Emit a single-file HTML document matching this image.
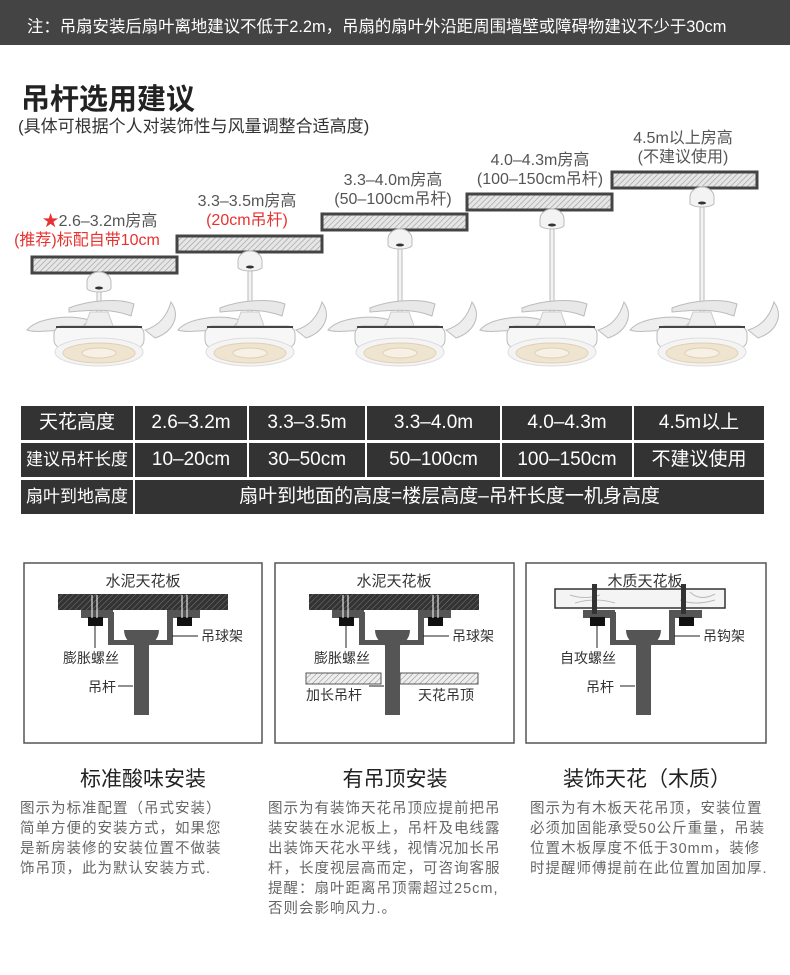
<!DOCTYPE html>
<html><head><meta charset="utf-8"><style>
body{margin:0;width:790px;height:975px;background:#fff;position:relative;overflow:hidden;font-family:"Liberation Sans","Noto Sans CJK SC",sans-serif;}
.a{position:absolute;white-space:nowrap;}
.hdr{left:0;top:0;width:790px;height:45px;background:#444;}
.t{color:#555;font-size:16px;text-align:center;line-height:18px;}
.r{color:#e8322f;}
.c{position:absolute;background:#333;color:#fff;font-size:19px;text-align:center;height:34px;line-height:34px;white-space:nowrap;}
.d{color:#666;font-size:14.5px;letter-spacing:1px;line-height:20px;}
.h{font-size:21px;color:#222;text-align:center;width:240px;}
</style></head><body>
<div class="a hdr"></div>
<div class="a" style="left:27px;top:13px;color:#fff;font-size:16.4px;">注：吊扇安装后扇叶离地建议不低于2.2m，吊扇的扇叶外沿距周围墙壁或障碍物建议不少于30cm</div>
<div class="a" style="left:21px;top:76px;font-size:29px;font-weight:bold;color:#222;">吊杆选用建议</div>
<div class="a" style="left:18px;top:112px;font-size:17px;color:#333;">(具体可根据个人对装饰性与风量调整合适高度)</div>

<div class="a t" style="left:20px;top:213px;width:160px;"><span class="r">★</span>2.6–3.2m房高</div>
<div class="a t r" style="left:6px;top:232px;width:162px;">(推荐)标配自带10cm</div>
<div class="a t" style="left:167px;top:193px;width:160px;">3.3–3.5m房高</div>
<div class="a t r" style="left:167px;top:212px;width:160px;">(20cm吊杆)</div>
<div class="a t" style="left:313px;top:172px;width:160px;">3.3–4.0m房高</div>
<div class="a t" style="left:313px;top:191px;width:160px;">(50–100cm吊杆)</div>
<div class="a t" style="left:460px;top:152px;width:160px;">4.0–4.3m房高</div>
<div class="a t" style="left:460px;top:171px;width:160px;">(100–150cm吊杆)</div>
<div class="a t" style="left:603px;top:130px;width:160px;">4.5m以上房高</div>
<div class="a t" style="left:603px;top:149px;width:160px;">(不建议使用)</div>

<svg class="a" style="left:0;top:0" width="790" height="975">
<defs>
<pattern id="hp" width="4" height="4" patternUnits="userSpaceOnUse" patternTransform="rotate(45)"><rect width="4" height="4" fill="#e6e6e6"/><line x1="0" y1="0" x2="0" y2="4" stroke="#9a9a9a" stroke-width="1.2"/></pattern>
<pattern id="dk" width="4" height="4" patternUnits="userSpaceOnUse" patternTransform="rotate(45)"><rect width="4" height="4" fill="#333"/><line x1="0" y1="0" x2="0" y2="4" stroke="#777" stroke-width="1"/></pattern>
<pattern id="lt" width="4" height="4" patternUnits="userSpaceOnUse" patternTransform="rotate(45)"><rect width="4" height="4" fill="#eee"/><line x1="0" y1="0" x2="0" y2="4" stroke="#888" stroke-width="1"/></pattern>
<g id="fan">
<path d="M-72,330 C-62,318 -30,314 -10,320 L-22,332 C-42,328 -60,334 -72,330Z" fill="#eee" stroke="#bbb"/>
<path d="M72,302 C82,316 74,332 56,338 L46,330 C60,326 68,316 72,302Z" fill="#eee" stroke="#bbb"/>
<path d="M-30,308 C-10,300 20,298 35,304 L32,316 C12,308 -10,310 -30,312Z" fill="#e8e8e8" stroke="#bbb"/>
<path d="M-14,326 L-9,312 L9,312 L14,326Z" fill="#eee" stroke="#ccc"/>
<rect x="-45" y="326" width="90" height="22" rx="8" fill="#f7f7f7" stroke="#bbb"/>
<line x1="-43" y1="327" x2="43" y2="327" stroke="#444" stroke-width="2"/>
<ellipse cx="0" cy="352" rx="44" ry="14" fill="#f4f4f4" stroke="#ddd"/>
<ellipse cx="0" cy="353" rx="36" ry="10" fill="#efe4d0" stroke="#e0d0b4"/>
<ellipse cx="0" cy="353" rx="17" ry="5" fill="#f7f0e4" stroke="#e0d0b4"/>
</g>
<g id="can"><path d="M-12,12 a12,10 0 0 1 24,0 v6 a12,4 0 0 1 -24,0z" fill="#f3f3f3" stroke="#bbb"/><ellipse cx="0" cy="18" rx="4" ry="1.5" fill="#333"/></g>
</defs>
<rect x="32" y="257" width="145" height="16" fill="url(#hp)" stroke="#444" stroke-width="3"/>
<rect x="177" y="236" width="145" height="16" fill="url(#hp)" stroke="#444" stroke-width="3"/>
<rect x="322" y="214" width="145" height="16" fill="url(#hp)" stroke="#444" stroke-width="3"/>
<rect x="467" y="194" width="145" height="16" fill="url(#hp)" stroke="#444" stroke-width="3"/>
<rect x="612" y="172" width="145" height="16" fill="url(#hp)" stroke="#444" stroke-width="3"/>
<g fill="#f3f3f3" stroke="#bbb">
<rect x="97" y="290" width="4" height="30"/>
<rect x="248" y="270" width="4" height="50"/>
<rect x="398" y="248" width="4" height="72"/>
<rect x="550" y="228" width="4" height="92"/>
<rect x="700" y="206" width="4" height="114"/>
</g>
<use href="#can" x="99" y="270"/><use href="#can" x="250" y="249"/><use href="#can" x="400" y="227"/><use href="#can" x="552" y="207"/><use href="#can" x="702" y="185"/>
<use href="#fan" x="99"/><use href="#fan" x="250"/><use href="#fan" x="400"/><use href="#fan" x="552"/><use href="#fan" x="702"/>

<g fill="none" stroke="#555" stroke-width="1.5">
<rect x="24" y="563" width="238" height="180"/>
<rect x="275" y="563" width="239" height="180"/>
<rect x="526" y="563" width="240" height="180"/>
</g>
<g font-size="15" fill="#333" font-family="Liberation Sans,Noto Sans CJK SC,sans-serif">
<text x="143" y="586" text-anchor="middle">水泥天花板</text>
<text x="394" y="586" text-anchor="middle">水泥天花板</text>
<text x="645" y="586" text-anchor="middle">木质天花板</text>
</g>
<g id="mount">
<rect x="81" y="610" width="32" height="8" fill="#555"/>
<rect x="167" y="610" width="33" height="8" fill="#555"/>
<path d="M108,612 h6 v28 h53 v-28 h6 v33 h-65z" fill="#555"/>
<path d="M124,630 h35 a17.5,17 0 0 1 -35,0z" fill="#555"/>
<rect x="134" y="640" width="15" height="75" fill="#555"/>
<rect x="88" y="617" width="15" height="9" fill="#111"/>
<rect x="177" y="617" width="15" height="9" fill="#111"/>
<line x1="95" y1="626" x2="95" y2="648" stroke="#222"/>
<line x1="172" y1="636" x2="198" y2="636" stroke="#222"/>
<line x1="118" y1="686" x2="133" y2="686" stroke="#222"/>
</g>
<rect x="58" y="594" width="170" height="16" fill="url(#dk)"/>
<g stroke="#fff" stroke-width="1"><line x1="92" y1="595" x2="92" y2="618"/><line x1="97" y1="595" x2="97" y2="618"/><line x1="182" y1="595" x2="182" y2="618"/><line x1="187" y1="595" x2="187" y2="618"/></g>
<g transform="translate(251,0)"><use href="#mount"/><rect x="58" y="594" width="170" height="16" fill="url(#dk)"/>
<g stroke="#fff" stroke-width="1"><line x1="92" y1="595" x2="92" y2="618"/><line x1="97" y1="595" x2="97" y2="618"/><line x1="182" y1="595" x2="182" y2="618"/><line x1="187" y1="595" x2="187" y2="618"/></g></g>
<rect x="306" y="673" width="75" height="11" fill="url(#lt)" stroke="#555"/>
<rect x="400" y="673" width="78" height="11" fill="url(#lt)" stroke="#555"/>
<g transform="translate(502,0)"><use href="#mount"/></g>
<rect x="555" y="589" width="170" height="19" fill="#f4f4f4" stroke="#333" stroke-width="1.5"/>
<path d="M570,595 q15,5 30,0 M575,603 q20,-6 40,0 M690,592 q10,10 25,2 M680,600 q15,6 35,0" stroke="#bbb" fill="none"/>
<rect x="592" y="584" width="5" height="30" fill="#333"/>
<rect x="681" y="584" width="5" height="30" fill="#333"/>
<g font-size="14" fill="#333" font-family="Liberation Sans,Noto Sans CJK SC,sans-serif">
<text x="63" y="663">膨胀螺丝</text><text x="201" y="641">吊球架</text><text x="88" y="692">吊杆</text>
<text x="314" y="663">膨胀螺丝</text><text x="452" y="641">吊球架</text>
<text x="306" y="700">加长吊杆</text><text x="418" y="700">天花吊顶</text>
<text x="560" y="663">自攻螺丝</text><text x="703" y="641">吊钩架</text><text x="586" y="692">吊杆</text>
</g>
</svg>

<div class="c" style="left:21px;top:406px;width:112px;">天花高度</div>
<div class="c" style="left:135px;top:406px;width:112px;">2.6–3.2m</div>
<div class="c" style="left:249px;top:406px;width:116px;">3.3–3.5m</div>
<div class="c" style="left:367px;top:406px;width:133px;">3.3–4.0m</div>
<div class="c" style="left:502px;top:406px;width:130px;">4.0–4.3m</div>
<div class="c" style="left:634px;top:406px;width:130px;">4.5m以上</div>
<div class="c" style="left:21px;top:443px;width:112px;font-size:17px;">建议吊杆长度</div>
<div class="c" style="left:135px;top:443px;width:112px;">10–20cm</div>
<div class="c" style="left:249px;top:443px;width:116px;">30–50cm</div>
<div class="c" style="left:367px;top:443px;width:133px;">50–100cm</div>
<div class="c" style="left:502px;top:443px;width:130px;">100–150cm</div>
<div class="c" style="left:634px;top:443px;width:130px;">不建议使用</div>
<div class="c" style="left:21px;top:480px;width:112px;font-size:17px;">扇叶到地高度</div>
<div class="c" style="left:135px;top:480px;width:629px;">扇叶到地面的高度=楼层高度–吊杆长度一机身高度</div>

<div class="a h" style="left:23px;top:763px;">标准酸味安装</div>
<div class="a h" style="left:275px;top:763px;">有吊顶安装</div>
<div class="a h" style="left:527px;top:763px;">装饰天花（木质）</div>
<div class="a d" style="left:20px;top:799px;">图示为标准配置（吊式安装）<br>简单方便的安装方式，如果您<br>是新房装修的安装位置不做装<br>饰吊顶，此为默认安装方式.</div>
<div class="a d" style="left:268px;top:799px;">图示为有装饰天花吊顶应提前把吊<br>装安装在水泥板上，吊杆及电线露<br>出装饰天花水平线，视情况加长吊<br>杆，长度视层高而定，可咨询客服<br>提醒：扇叶距离吊顶需超过25cm,<br>否则会影响风力.。</div>
<div class="a d" style="left:530px;top:799px;">图示为有木板天花吊顶，安装位置<br>必须加固能承受50公斤重量，吊装<br>位置木板厚度不低于30mm，装修<br>时提醒师傅提前在此位置加固加厚.</div>
</body></html>
